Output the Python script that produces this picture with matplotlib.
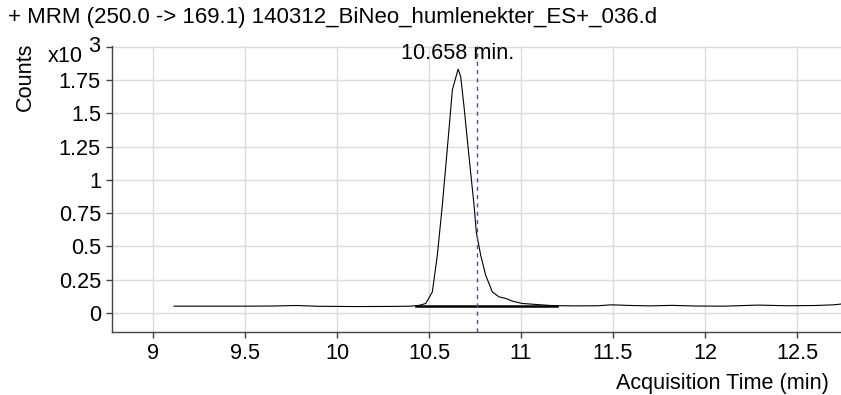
import matplotlib
matplotlib.use("Agg")
import matplotlib.pyplot as plt
import numpy as np

plt.rcParams['font.family'] = ['Liberation Sans', 'DejaVu Sans']

# ---- data (x10^3 counts vs acquisition time in min) ----
time_min = [9.114, 9.3, 9.5, 9.65, 9.78, 9.9, 10.1, 10.3, 10.40, 10.446,
            10.482, 10.518, 10.545, 10.572, 10.599, 10.627, 10.658, 10.672,
            10.690, 10.717, 10.745, 10.757, 10.781, 10.808, 10.844, 10.880,
            10.917, 10.953, 11.007, 11.080, 11.170, 11.3, 11.42, 11.49,
            11.6, 11.7, 11.82, 11.95, 12.1, 12.29, 12.45, 12.6, 12.7, 12.74]
counts_k = [0.052, 0.052, 0.052, 0.053, 0.057, 0.051, 0.049, 0.050, 0.052, 0.058,
            0.072, 0.159, 0.433, 0.806, 1.229, 1.677, 1.831, 1.776,
            1.552, 1.179, 0.806, 0.607, 0.433, 0.284, 0.159, 0.122,
            0.110, 0.090, 0.072, 0.065, 0.056, 0.054, 0.055, 0.062,
            0.057, 0.054, 0.058, 0.053, 0.052, 0.060, 0.055, 0.057, 0.062, 0.068]

integ_start, integ_end = 10.431, 11.197
integ_level = [0.050, 0.050]
rt_marker = 10.759
peak_label = "10.658 min."
peak_label_pos = (10.655, 1.948)

yticks = [0, 0.25, 0.5, 0.75, 1, 1.25, 1.5, 1.75, 2.0]
ytick_labels = ["0", "0.25", "0.5", "0.75", "1", "1.25", "1.5", "1.75", ""]
xticks = [9, 9.5, 10, 10.5, 11, 11.5, 12, 12.5]
xtick_labels = ["9", "9.5", "10", "10.5", "11", "11.5", "12", "12.5"]

title = "+ MRM (250.0 -> 169.1) 140312_BiNeo_humlenekter_ES+_036.d"

FS = 15.6
W, H = 841, 395
fig = plt.figure(figsize=(W / 100, H / 100), dpi=100)
ax = fig.add_axes([112 / W, 1 - 332 / H, 1 - 112 / W, (332 - 46) / H])

ax.set_xlim(8.777, 12.739)
ax.set_ylim(-0.142, 2.005)

ax.grid(True, color="#dcdcdc", linewidth=1.0)
ax.set_axisbelow(True)

ax.plot(time_min, counts_k, color="black", linewidth=0.8, zorder=3)
ax.plot([integ_start, integ_end], integ_level, color="black", linewidth=1.8, zorder=3)
ax.axvline(rt_marker, color="#4a4ab8", linewidth=1.0, linestyle=(0, (3, 3)), zorder=4)
ax.text(peak_label_pos[0], peak_label_pos[1], peak_label, ha="center", va="center",
        fontsize=FS, zorder=5)

ax.set_xticks(xticks)
ax.set_xticklabels(xtick_labels)
ax.set_yticks(yticks)
ax.set_yticklabels(ytick_labels)
ax.tick_params(axis="both", labelsize=FS, direction="out", length=4,
               color="#444444", width=1.0, pad=4)

for s in ["top", "right"]:
    ax.spines[s].set_visible(False)
for s in ["left", "bottom"]:
    ax.spines[s].set_color("#444444")
    ax.spines[s].set_linewidth(1.0)

fig.text(8 / W, 1 - 18 / H, title, ha="left", va="center", fontsize=16)
fig.text(25 / W, 1 - 77 / H, "Counts", rotation=90, ha="center", va="center", fontsize=FS)
fig.text(83 / W, 1 - 57 / H, "x10", ha="right", va="center", fontsize=FS)
fig.text(88 / W, 1 - 46 / H, "3", ha="left", va="center", fontsize=FS)
fig.text(829 / W, 1 - 383 / H, "Acquisition Time (min)", ha="right", va="center", fontsize=FS)

fig.savefig("out.png", dpi=100)
